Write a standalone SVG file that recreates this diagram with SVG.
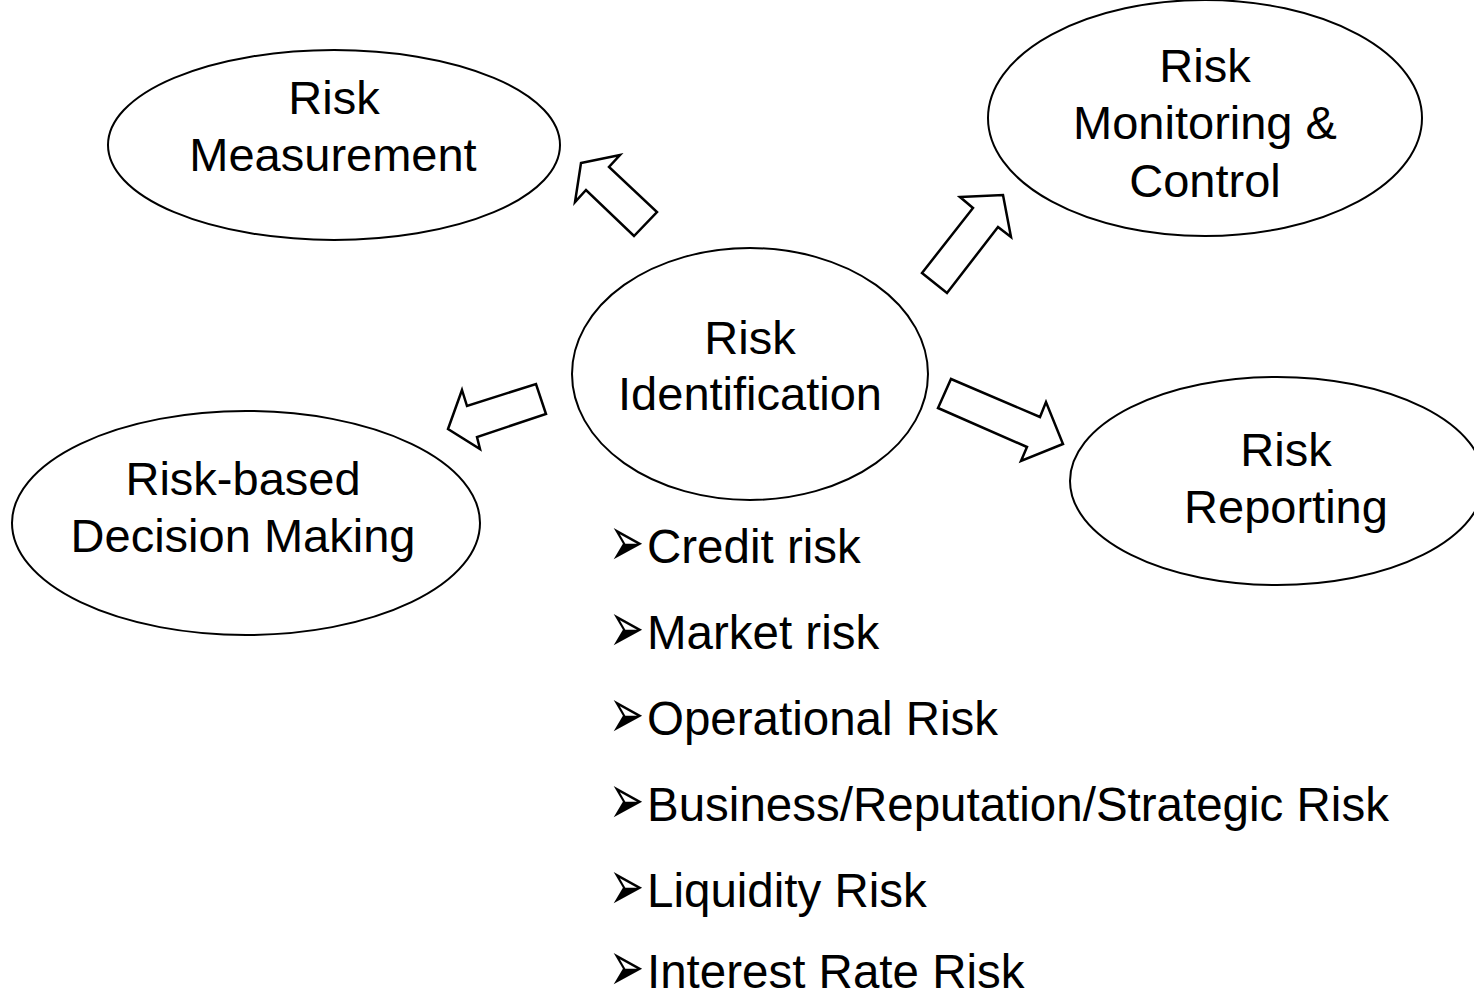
<svg xmlns="http://www.w3.org/2000/svg" width="1474" height="996" viewBox="0 0 1474 996">
  <style>
    .node { fill: #ffffff; stroke: #000000; stroke-width: 2; }
    .label { font-family: "Liberation Sans", Arial, sans-serif; font-size: 47px; fill: #000000; text-anchor: middle; }
    .flow { fill: #ffffff; stroke: #000000; stroke-width: 2.5; stroke-linejoin: miter; }
    .item { font-family: "Liberation Sans", Arial, sans-serif; font-size: 47.5px; fill: #000000; }
    .bullet { font-family: "DejaVu Sans", sans-serif; font-size: 42px; fill: #000000; }
  </style>
  <rect width="1474" height="996" fill="#ffffff"/>

  <!-- block arrows radiating from the centre node -->
  <g id="connectors">
    <polygon class="flow" points="581,163 620,155 609,167 657,212 634,236 586,190 575,202"/>
    <polygon class="flow" points="960,197 1003,195 1011,237 998,227 947,293 922,273 973,208"/>
    <polygon class="flow" points="462,390 467,406 536,384 546,414 477,437 480,449 448,429"/>
    <polygon class="flow" points="951,379 1040,417 1046,402 1063,444 1021,461 1027,447 938,408"/>
  </g>

  <g id="risk-measurement">
    <ellipse class="node" cx="334" cy="145" rx="226" ry="95"/>
    <text class="label" x="334" y="114">Risk</text>
    <text class="label" x="333" y="171">Measurement</text>
  </g>

  <g id="risk-monitoring-control">
    <ellipse class="node" cx="1205" cy="118" rx="217" ry="118"/>
    <text class="label" x="1205" y="82">Risk</text>
    <text class="label" x="1205" y="139">Monitoring &amp;</text>
    <text class="label" x="1205" y="197">Control</text>
  </g>

  <g id="risk-identification">
    <ellipse class="node" cx="750" cy="374" rx="178" ry="126"/>
    <text class="label" x="750" y="354">Risk</text>
    <text class="label" x="750" y="410">Identification</text>
  </g>

  <g id="risk-based-decision-making">
    <ellipse class="node" cx="246" cy="523" rx="234" ry="112"/>
    <text class="label" x="243" y="495">Risk-based</text>
    <text class="label" x="243" y="552">Decision Making</text>
  </g>

  <g id="risk-reporting">
    <ellipse class="node" cx="1277" cy="481" rx="207" ry="104"/>
    <text class="label" x="1286" y="466">Risk</text>
    <text class="label" x="1286" y="523">Reporting</text>
  </g>

  <!-- risk categories, each led by a tall arrowhead bullet -->
  <g id="risk-types">
    <text class="bullet" transform="translate(609,566) scale(1,1.7)">➢</text>
    <text class="item" x="647" y="563">Credit risk</text>
    <text class="bullet" transform="translate(609,652) scale(1,1.7)">➢</text>
    <text class="item" x="647" y="649">Market risk</text>
    <text class="bullet" transform="translate(609,738) scale(1,1.7)">➢</text>
    <text class="item" x="647" y="735">Operational Risk</text>
    <text class="bullet" transform="translate(609,824) scale(1,1.7)">➢</text>
    <text class="item" x="647" y="821">Business/Reputation/Strategic Risk</text>
    <text class="bullet" transform="translate(609,910) scale(1,1.7)">➢</text>
    <text class="item" x="647" y="907">Liquidity Risk</text>
    <text class="bullet" transform="translate(609,991) scale(1,1.7)">➢</text>
    <text class="item" x="647" y="988">Interest Rate Risk</text>
  </g>
</svg>
